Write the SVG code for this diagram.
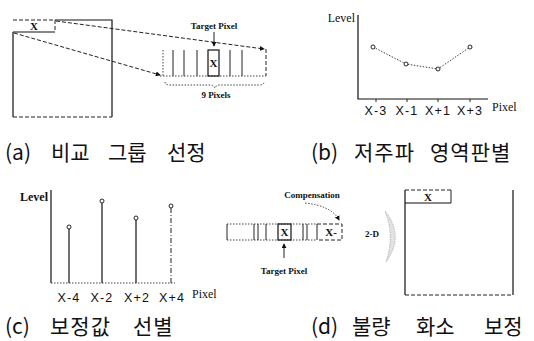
<svg xmlns="http://www.w3.org/2000/svg" width="534" height="341" viewBox="0 0 534 341">
<defs>
<marker id="ah" viewBox="0 0 6 6" refX="5" refY="3" markerWidth="5" markerHeight="5" orient="auto"><path d="M0,0 L6,3 L0,6 z" fill="#111"/></marker>
</defs>
<style>
.ln{stroke:#111;stroke-width:1.2;fill:none}
.thin{stroke:#222;stroke-width:1;fill:none}
.dash{stroke:#222;stroke-width:1;stroke-dasharray:4 2;fill:none}
.dot{stroke:#444;stroke-width:1;stroke-dasharray:1.5 1.5;fill:none}
.lbl{font-family:"Liberation Serif",serif;font-weight:bold;font-size:9px;fill:#111}
.ax{font-family:"Liberation Serif",serif;font-size:12px;fill:#111}
.tick{font-family:"Liberation Sans",sans-serif;font-size:12.5px;fill:#111;letter-spacing:1.2px}
.bx{font-family:"Liberation Serif",serif;font-weight:bold;font-size:11px;fill:#111}
.cap{font-family:"Noto Sans CJK KR",sans-serif;font-size:21px;fill:#111}
.pt{fill:#fff;stroke:#111;stroke-width:0.9}
</style>

<!-- Panel (a) -->
<g id="a-image">
  <path class="ln" d="M55,20 H112 V117"/>
  <path class="dash" d="M13,117 H112"/>
  <path class="ln" d="M13,32 V117"/>
  <path class="dash" d="M13,20 H55"/>
  <path class="dash" d="M55,20 V32"/>
  <path class="ln" d="M13,32 H55"/>
  <text class="bx" x="34" y="30" text-anchor="middle">X</text>
</g>
<g id="a-strip">
  <path class="dot" d="M163,50 V76"/>
  <path class="thin" d="M173,50 V76 M184,50 V76 M197,50 V76 M230,50 V76 M242,50 V76"/>
  <path class="dash" d="M266,49 V76"/>
  <path class="dot" d="M160,76 H266"/>
  <rect class="ln" x="208" y="50" width="11" height="26"/>
  <text class="bx" x="213.5" y="67" text-anchor="middle">X</text>
</g>
<g id="a-labels">
  <text class="lbl" x="214" y="29" text-anchor="middle">Target Pixel</text>
  <path class="dot" d="M165,82 Q165,85 170,85 H210 Q214,85 215,88 Q216,85 220,85 H259 Q264,85 264,82"/>
  <text class="lbl" x="216" y="98" text-anchor="middle">9 Pixels</text>
</g>

<!-- Panel (b) -->
<g id="b-chart">
  <path class="ln" d="M358,15 V99 H488"/>
  <path class="thin" d="M376,99 V102 M407,99 V102 M438,99 V102 M470,99 V102"/>
  <path class="dot" d="M373,47 L406,64 L438,69 L470,47"/>
  <circle class="pt" cx="373" cy="47" r="2"/>
  <circle class="pt" cx="406" cy="64" r="2"/>
  <circle class="pt" cx="438" cy="69" r="2"/>
  <circle class="pt" cx="470" cy="47" r="2"/>
  <text class="ax" x="355" y="22" text-anchor="end">Level</text>
  <text class="ax" x="492" y="111">Pixel</text>
  <text class="tick" x="376" y="115" text-anchor="middle">X-3</text>
  <text class="tick" x="407" y="115" text-anchor="middle">X-1</text>
  <text class="tick" x="438" y="115" text-anchor="middle">X+1</text>
  <text class="tick" x="470" y="115" text-anchor="middle">X+3</text>
</g>

<!-- Panel (c) -->
<g id="c-chart">
  <path class="ln" d="M51,190 V283"/>
  <path class="dot" d="M51,283 H175"/>
  <path class="ln" d="M69,229 V283 M102,203 V283 M136,220 V283"/>
  <path class="thin" stroke-dasharray="5 2 1 2" d="M171,208 V283"/>
  <circle class="pt" cx="69" cy="227" r="2"/>
  <circle class="pt" cx="102" cy="201" r="2"/>
  <circle class="pt" cx="136" cy="218" r="2"/>
  <circle class="pt" cx="171" cy="206" r="2"/>
  <text class="ax" x="48" y="201" text-anchor="end" font-weight="bold">Level</text>
  <text class="ax" x="192" y="298">Pixel</text>
  <text class="tick" x="69" y="302" text-anchor="middle">X-4</text>
  <text class="tick" x="102" y="302" text-anchor="middle">X-2</text>
  <text class="tick" x="137" y="302" text-anchor="middle">X+2</text>
  <text class="tick" x="172" y="302" text-anchor="middle">X+4</text>
</g>

<!-- Panel (d) -->
<g id="d-strip">
  <path class="dot" d="M227,224 H317 M227,240 H317"/>
  <path class="thin" d="M227,224 V240 M254,224 V240 M258,224 V240 M266,224 V240 M303,224 V240 M307,224 V240 M317,224 V240"/>
  <rect class="ln" x="278" y="224" width="13" height="16"/>
  <text class="bx" x="284.5" y="236" text-anchor="middle">X</text>
  <path class="dash" d="M317,224 H342 V240 H317"/>
  <text class="bx" x="331" y="236" text-anchor="middle">X-</text>
  <text class="lbl" x="312" y="198" text-anchor="middle">Compensation</text>
  <text class="lbl" x="284" y="274" text-anchor="middle">Target Pixel</text>
  <text class="lbl" x="372" y="237" text-anchor="middle" font-size="11">2-D</text>
  <path d="M385,211 Q405,236 386,262 Q395,236 385,211 Z" fill="#e2e2e2" stroke="#aaa" stroke-width="0.8" stroke-dasharray="1.5 1"/>
</g>
<g id="d-image">
  <path class="ln" d="M405,190 V295"/>
  <path class="ln" d="M513,190 V295"/>
  <path class="dash" d="M405,295 H513"/>
  <path class="dash" d="M405,190 H451"/>
  <path class="thin" d="M451,190 V203"/>
  <path class="ln" d="M405,203 H451"/>
  <text class="bx" x="428" y="201" text-anchor="middle">X</text>
</g>

<!-- Connectors -->
<g id="connectors">
  <path class="dash" d="M56,21 L264,49" marker-end="url(#ah)"/>
  <path class="dash" d="M14,33 L160,75" marker-end="url(#ah)"/>
  <path class="thin" d="M214,32 V46" marker-end="url(#ah)"/>
  <path class="dot" d="M305,203 Q332,206 339,220" marker-end="url(#ah)"/>
  <path class="thin" d="M284,258 V244" marker-end="url(#ah)"/>
</g>

<!-- Captions -->
<g id="captions">
  <text class="cap" x="5" y="160">(a)</text>
  <text class="cap" x="51" y="160">비교</text>
  <text class="cap" x="108" y="160">그룹</text>
  <text class="cap" x="167" y="160">선정</text>
  <text class="cap" x="311" y="160">(b)</text>
  <text class="cap" x="354" y="160" letter-spacing="1">저주파</text>
  <text class="cap" x="430" y="160" letter-spacing="1">영역판별</text>
  <text class="cap" x="5" y="334">(c)</text>
  <text class="cap" x="50" y="334" letter-spacing="1">보정값</text>
  <text class="cap" x="133" y="334" letter-spacing="1">선별</text>
  <text class="cap" x="311" y="334">(d)</text>
  <text class="cap" x="352" y="334">불량</text>
  <text class="cap" x="416" y="334">화소</text>
  <text class="cap" x="484" y="334">보정</text>
</g>
</svg>
